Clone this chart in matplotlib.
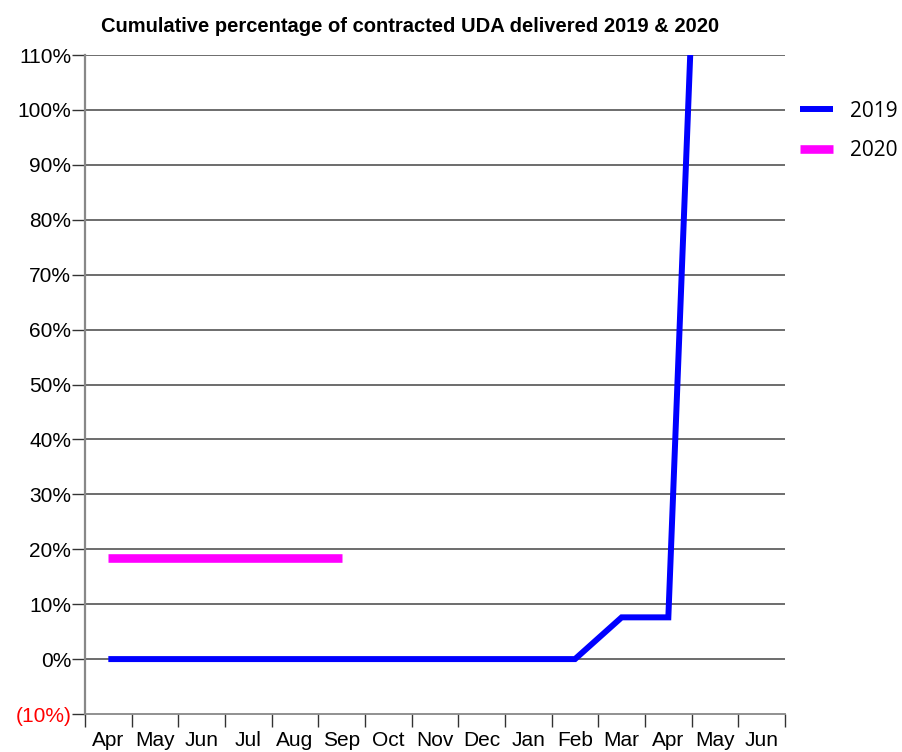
import numpy as np
import matplotlib
matplotlib.use('Agg')
import matplotlib.pyplot as plt
from matplotlib.ticker import FixedLocator, NullFormatter

months = ['Apr', 'May', 'Jun', 'Jul', 'Aug', 'Sep', 'Oct', 'Nov', 'Dec',
          'Jan', 'Feb', 'Mar', 'Apr', 'May', 'Jun']
pct_2019 = [0, 0, 0, 0, 0, 0, 0, 0, 0, 0, 0, 7.6, 7.6, 226]
pct_2020 = [18.4, 18.4, 18.4, 18.4, 18.4, 18.4]
y_ticks = [-10, 0, 10, 20, 30, 40, 50, 60, 70, 80, 90, 100, 110]

plt.rcParams['font.family'] = ['Liberation Sans', 'DejaVu Sans']

fig = plt.figure(figsize=(9.03, 7.52), dpi=100)
ax = fig.add_axes([85 / 903, 1 - 714 / 752, 700 / 903, 659 / 752])

x19 = np.arange(len(pct_2019))
x20 = np.arange(len(pct_2020))
ax.plot(x19, pct_2019, color='#0000ff', lw=4.3, label='2019',
        solid_joinstyle='miter', solid_capstyle='butt', zorder=3)
ax.plot(x20, pct_2020, color='#ff00ff', lw=6.2, label='2020',
        solid_capstyle='butt', zorder=3)

ax.set_xlim(-0.5, len(months) - 0.5)
ax.set_ylim(-10, 110)

ax.set_yticks(y_ticks)
labels = ['(10%)' if v < 0 else '%d%%' % v for v in y_ticks]
ax.set_yticklabels(labels)
for t, v in zip(ax.get_yticklabels(), y_ticks):
    if v < 0:
        t.set_color('#ff0000')
for v in y_ticks[1:]:
    ax.axhline(v, color='#454545', lw=1.1, zorder=1)

ax.set_xticks(np.arange(len(months)))
ax.set_xticklabels(months)
ax.xaxis.set_minor_locator(FixedLocator(np.arange(len(months) + 1) - 0.5))
ax.xaxis.set_minor_formatter(NullFormatter())
ax.tick_params(axis='x', which='major', length=0, labelsize=15, pad=12)
ax.tick_params(axis='x', which='minor', length=9.4, width=1, color='#333333',
               direction='out')
ax.tick_params(axis='y', length=9.4, width=1, color='#333333', labelsize=15,
               pad=0.5)

for s in ['top', 'right']:
    ax.spines[s].set_visible(False)
ax.spines['left'].set_color('#888888')
ax.spines['left'].set_linewidth(1.6)
ax.spines['bottom'].set_color('#888888')
ax.spines['bottom'].set_linewidth(1.3)

fig.text(410 / 903, 1 - 27 / 752,
         'Cumulative percentage of contracted UDA delivered 2019 & 2020',
         ha='center', va='center', fontsize=14.5, fontweight='bold')

leg = fig.legend(loc='upper left', bbox_to_anchor=(781 / 903, 1 - 82 / 752),
                 frameon=False, prop={'family': 'Open Sans', 'size': 15},
                 handlelength=1.6, handletextpad=0.8, labelspacing=0.9)

fig.savefig('out.png', dpi=100)
